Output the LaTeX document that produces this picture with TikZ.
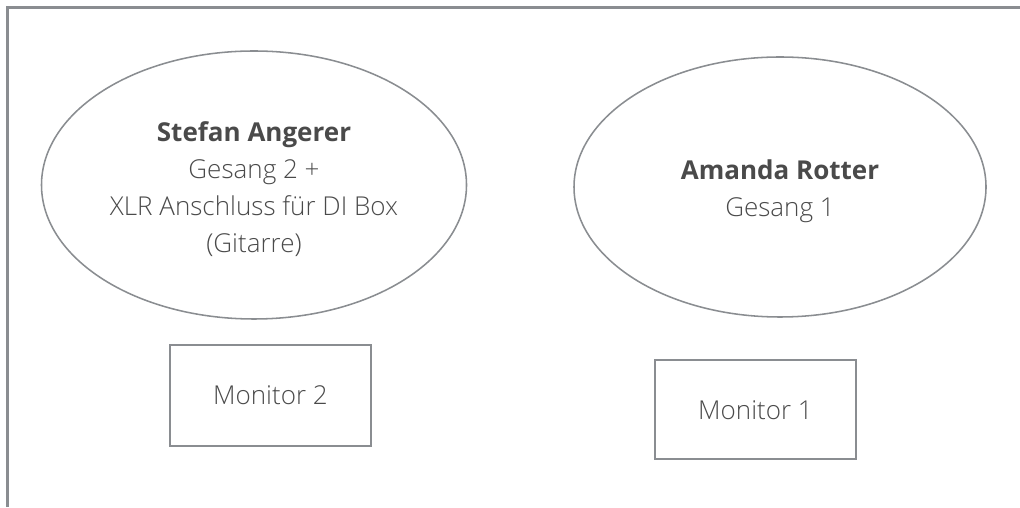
\documentclass[tikz,border=0pt]{standalone}
\usepackage{fontspec}
\IfFontExistsTF{Open Sans Light}{%
	\setmainfont{Open Sans}[UprightFont=* Light, BoldFont=* Bold]%
	\newcommand{\labelsize}{\fontsize{18.5}{26.3}\selectfont}%
}{%
	\setmainfont{Lato}[UprightFont=* Light, BoldFont=* Bold, LetterSpace=5]%
	\newcommand{\labelsize}{\fontsize{19}{26.3}\selectfont}%
}
\usetikzlibrary{shapes.geometric}
\definecolor{framegray}{HTML}{8A8D91}
\definecolor{textgray}{HTML}{4A4A4A}
\newcommand{\namepad}{\rule{0pt}{1.07em}}
\tikzset{
	singer/.style={ellipse, draw=framegray, line width=1.1pt, text=textgray, align=center, inner sep=0pt, font=\labelsize},
	monitor/.style={rectangle, draw=framegray, line width=1.7pt, text=textgray, inner sep=0pt, minimum width=5.025cm, font=\labelsize}
}

\begin{document}
\begin{tikzpicture}
			%%%%% START %%%%%
			
			\useasboundingbox (0, 0) rectangle (25.5, 12.675);
			
			\draw[line width=1.5pt, color=framegray] (0.1875, 0) -- (0.1875, 12.4875) -- (25.5, 12.4875);
			
			\node[singer, minimum width=10.625cm, minimum height=6.7cm] (stefan) at (6.35, 8.05) {\namepad\textbf{Stefan Angerer}\\Gesang 2 +\\XLR Anschluss für DI Box\\(Gitarre)};
			\node[singer, minimum width=10.3cm, minimum height=6.5cm] (amanda) at (19.5, 8.0) {\namepad\textbf{Amanda Rotter}\\Gesang 1};
			
			\node[monitor, minimum height=2.525cm] (mon2) at (6.7625, 2.7875) {Monitor 2};
			\node[monitor, minimum height=2.475cm] (mon1) at (18.8875, 2.4325) {Monitor 1};
			
			%%%%% END %%%%%
		\end{tikzpicture}
\end{document}
